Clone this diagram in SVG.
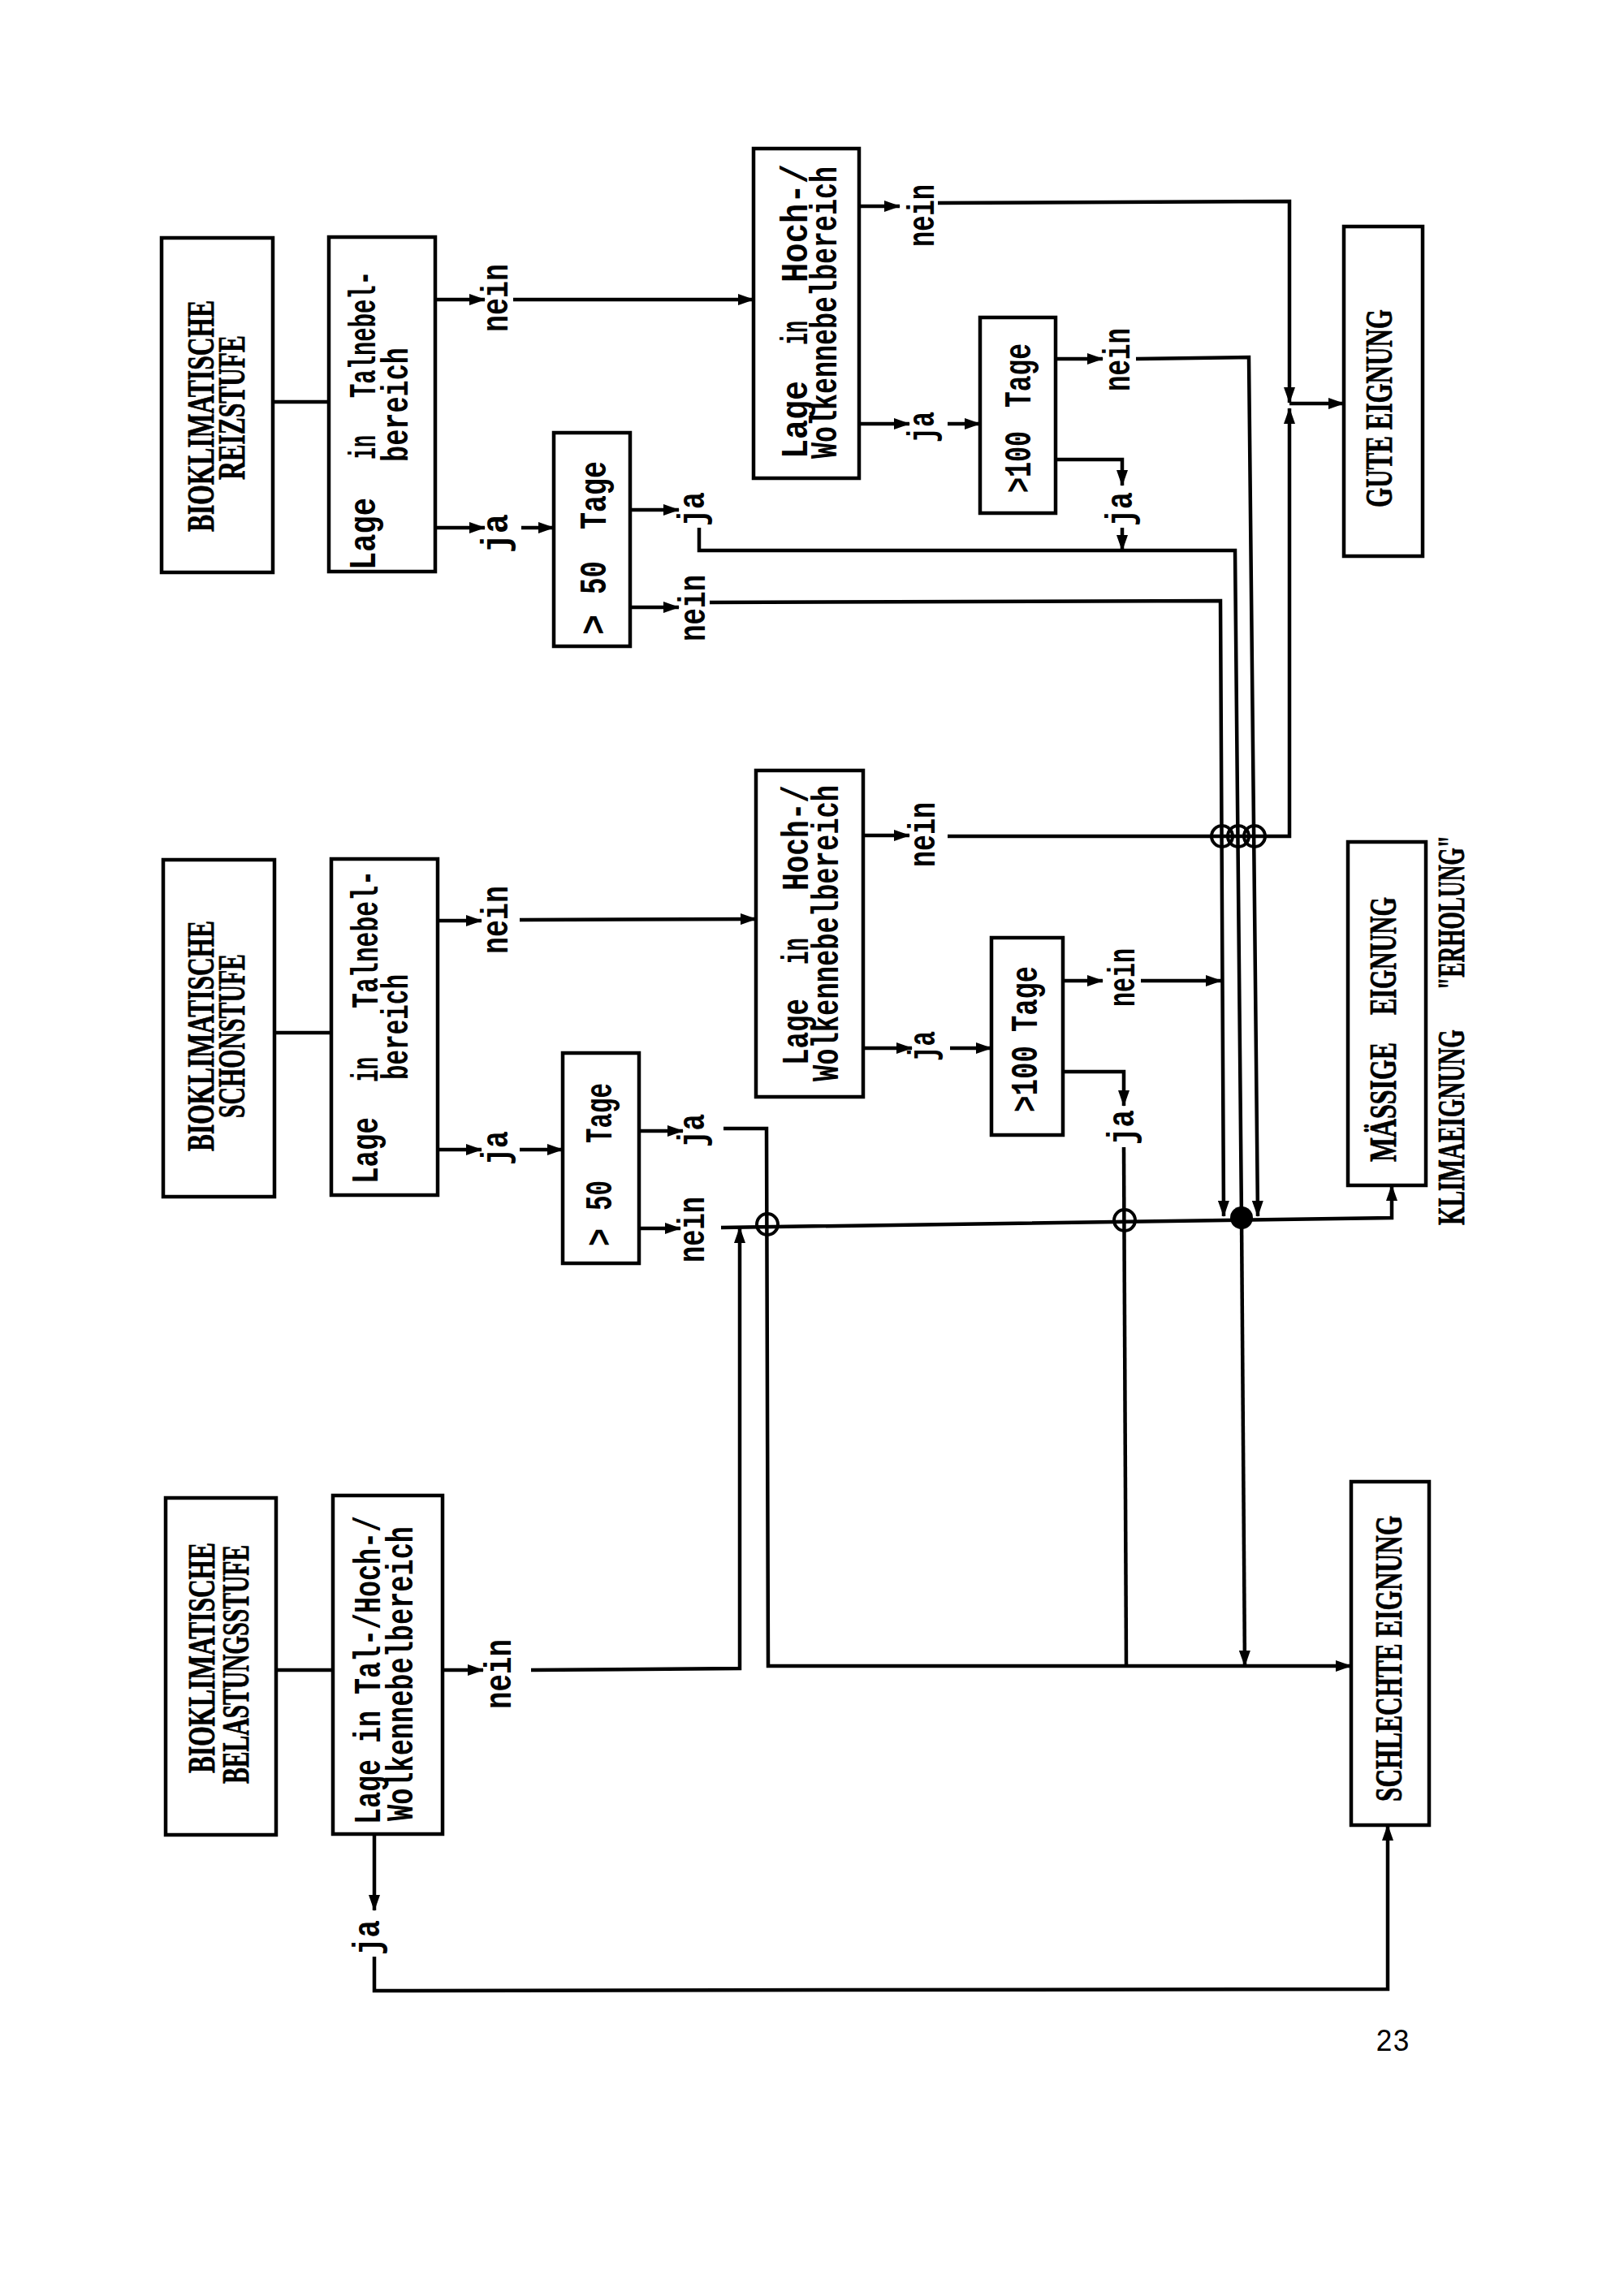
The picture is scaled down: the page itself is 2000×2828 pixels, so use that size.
<svg xmlns="http://www.w3.org/2000/svg" width="2000" height="2828" viewBox="0 0 2000 2828">
<style>
.box{fill:#fff;stroke:#000;stroke-width:4.5}
.ln{fill:none;stroke:#000;stroke-width:4.5}
.ar{fill:none;stroke:#000;stroke-width:4.5;marker-end:url(#ah)}
.hd{font-family:"Liberation Serif",serif;font-weight:bold;font-size:47px;fill:#000;stroke:#000;stroke-width:0.8}
.tw{font-family:"Liberation Mono",monospace;font-weight:bold;font-size:47px;fill:#000}
.pg{font-family:"Liberation Mono",monospace;font-size:38px;fill:#000}
.x{fill:none;stroke:#000;stroke-width:4}
</style>
<defs>
<marker id="ah" markerWidth="20" markerHeight="14" refX="19" refY="7" orient="auto" markerUnits="userSpaceOnUse"><path d="M0,0 L20,7 L0,14 z" fill="#000"/></marker>
</defs>
<rect width="2000" height="2828" fill="#fff"/>

<g id="connectors">
<!-- row 1 -->
<path class="ln" d="M336,495 H405"/>
<path class="ar" d="M536,369 H597"/>
<path class="ar" d="M632,369 H928"/>
<path class="ar" d="M536,650 H597"/>
<path class="ar" d="M642,650 H682"/>
<path class="ar" d="M776,628 H836"/>
<path class="ln" d="M861,650 V678 H1521 L1529,1500"/>
<path class="ar" d="M776,748 H836"/>
<path class="ar" d="M874,742 L1503,740 L1507,1498"/>
<path class="ar" d="M1058,254 H1108"/>
<path class="ar" d="M1155,250 L1588,248 V496"/>
<path class="ar" d="M1588,497 H1655"/>
<path class="ar" d="M1058,522 H1120"/>
<path class="ar" d="M1167,522 H1207"/>
<path class="ar" d="M1300,442 H1358"/>
<path class="ar" d="M1399,442 L1538,440 L1549,1498"/>
<path class="ar" d="M1300,566 H1382 V598"/>
<path class="ar" d="M1382,650 V678"/>
<!-- row 2 -->
<path class="ln" d="M338,1272 H408"/>
<path class="ar" d="M539,1134 H593"/>
<path class="ar" d="M640,1133 L931,1132"/>
<path class="ar" d="M539,1416 H593"/>
<path class="ar" d="M640,1416 H693"/>
<path class="ar" d="M787,1393 H841"/>
<path class="ar" d="M891,1390 H944 L946,2052 H1664"/>
<path class="ar" d="M787,1513 H838"/>
<path class="ar" d="M888,1512 L1714,1500 V1460"/>
<path class="ar" d="M654,2057 L911,2055 V1512"/>
<path class="ar" d="M1063,1029 H1120"/>
<path class="ar" d="M1167,1030 H1588 V503"/>
<path class="ar" d="M1063,1291 H1123"/>
<path class="ar" d="M1170,1291 H1221"/>
<path class="ar" d="M1309,1208 H1358"/>
<path class="ar" d="M1405,1208 H1504"/>
<path class="ar" d="M1309,1320 H1384 V1362"/>
<path class="ln" d="M1384,1413 L1387,2052"/>
<path class="ar" d="M1529,1500 L1533,2052"/>
<!-- row 3 -->
<path class="ln" d="M340,2057 H410"/>
<path class="ar" d="M545,2057 H595"/>
<path class="ar" d="M461,2259 V2353"/>
<path class="ar" d="M461,2410 V2452 L1709,2450 V2248"/>
<!-- crossings -->
<circle class="x" cx="1505" cy="1030" r="13"/>
<circle class="x" cx="1525" cy="1030" r="13"/>
<circle class="x" cx="1545" cy="1030" r="13"/>
<circle class="x" cx="945" cy="1508" r="13"/>
<circle class="x" cx="1385" cy="1503" r="13"/>
<circle cx="1529" cy="1500" r="14" fill="#000"/>
</g>

<g id="reizstufe">
<rect class="box" x="199" y="293" width="137" height="412"/>
<text class="hd" transform="translate(263,655) rotate(-90)" textLength="285" lengthAdjust="spacingAndGlyphs">BIOKLIMATISCHE</text>
<text class="hd" transform="translate(301,591) rotate(-90)" textLength="178" lengthAdjust="spacingAndGlyphs">REIZSTUFE</text>
</g>
<g id="talnebel1">
<rect class="box" x="405" y="292" width="131" height="412"/>
<text class="tw" transform="translate(462,702) rotate(-90)" textLength="89" lengthAdjust="spacingAndGlyphs">Lage</text>
<text class="tw" transform="translate(462,566) rotate(-90)" textLength="30" lengthAdjust="spacingAndGlyphs">in</text>
<text class="tw" transform="translate(462,490) rotate(-90)" textLength="156" lengthAdjust="spacingAndGlyphs">Talnebel-</text>
<text class="tw" transform="translate(502,569) rotate(-90)" textLength="141" lengthAdjust="spacingAndGlyphs">bereich</text>
</g>
<g id="labels1">
<text class="tw" transform="translate(625,409) rotate(-90)" textLength="84" lengthAdjust="spacingAndGlyphs">nein</text>
<text class="tw" transform="translate(625,681) rotate(-90)" textLength="48" lengthAdjust="spacingAndGlyphs">ja</text>
<text class="tw" transform="translate(867,648) rotate(-90)" textLength="42" lengthAdjust="spacingAndGlyphs">ja</text>
<text class="tw" transform="translate(868,790) rotate(-90)" textLength="82" lengthAdjust="spacingAndGlyphs">nein</text>
<text class="tw" transform="translate(1150,304) rotate(-90)" textLength="77" lengthAdjust="spacingAndGlyphs">nein</text>
<text class="tw" transform="translate(1150,545) rotate(-90)" textLength="38" lengthAdjust="spacingAndGlyphs">ja</text>
<text class="tw" transform="translate(1391,482) rotate(-90)" textLength="78" lengthAdjust="spacingAndGlyphs">nein</text>
<text class="tw" transform="translate(1394,648) rotate(-90)" textLength="42" lengthAdjust="spacingAndGlyphs">ja</text>
</g>
<g id="tage50_1">
<rect class="box" x="682" y="533" width="94" height="263"/>
<text class="tw" transform="translate(746,782) rotate(-90)" textLength="25" lengthAdjust="spacingAndGlyphs">&gt;</text>
<text class="tw" transform="translate(746,732) rotate(-90)" textLength="41" lengthAdjust="spacingAndGlyphs">50</text>
<text class="tw" transform="translate(746,652) rotate(-90)" textLength="84" lengthAdjust="spacingAndGlyphs">Tage</text>
</g>
<g id="hoch1">
<rect class="box" x="928" y="183" width="130" height="406"/>
<text class="tw" transform="translate(994,565) rotate(-90)" textLength="96" lengthAdjust="spacingAndGlyphs">Lage</text>
<text class="tw" transform="translate(994,425) rotate(-90)" textLength="30" lengthAdjust="spacingAndGlyphs">in</text>
<text class="tw" transform="translate(994,348) rotate(-90)" textLength="146" lengthAdjust="spacingAndGlyphs">Hoch-/</text>
<text class="tw" transform="translate(1030,565) rotate(-90)" textLength="360" lengthAdjust="spacingAndGlyphs">Wolkennebelbereich</text>
</g>
<g id="tage100_1">
<rect class="box" x="1207" y="391" width="93" height="241"/>
<text class="tw" transform="translate(1269,607) rotate(-90)" textLength="76" lengthAdjust="spacingAndGlyphs">&gt;100</text>
<text class="tw" transform="translate(1269,502) rotate(-90)" textLength="79" lengthAdjust="spacingAndGlyphs">Tage</text>
</g>

<g id="schonstufe">
<rect class="box" x="201" y="1059" width="137" height="415"/>
<text class="hd" transform="translate(263,1418) rotate(-90)" textLength="284" lengthAdjust="spacingAndGlyphs">BIOKLIMATISCHE</text>
<text class="hd" transform="translate(301,1377) rotate(-90)" textLength="202" lengthAdjust="spacingAndGlyphs">SCHONSTUFE</text>
</g>
<g id="talnebel2">
<rect class="box" x="408" y="1058" width="131" height="414"/>
<text class="tw" transform="translate(465,1458) rotate(-90)" textLength="82" lengthAdjust="spacingAndGlyphs">Lage</text>
<text class="tw" transform="translate(465,1333) rotate(-90)" textLength="31" lengthAdjust="spacingAndGlyphs">in</text>
<text class="tw" transform="translate(465,1242) rotate(-90)" textLength="170" lengthAdjust="spacingAndGlyphs">Talnebel-</text>
<text class="tw" transform="translate(502,1330) rotate(-90)" textLength="130" lengthAdjust="spacingAndGlyphs">bereich</text>
</g>
<g id="labels2">
<text class="tw" transform="translate(625,1175) rotate(-90)" textLength="84" lengthAdjust="spacingAndGlyphs">nein</text>
<text class="tw" transform="translate(625,1435) rotate(-90)" textLength="42" lengthAdjust="spacingAndGlyphs">ja</text>
<text class="tw" transform="translate(867,1413) rotate(-90)" textLength="41" lengthAdjust="spacingAndGlyphs">ja</text>
<text class="tw" transform="translate(867,1555) rotate(-90)" textLength="81" lengthAdjust="spacingAndGlyphs">nein</text>
<text class="tw" transform="translate(1151,1068) rotate(-90)" textLength="80" lengthAdjust="spacingAndGlyphs">nein</text>
<text class="tw" transform="translate(1151,1307) rotate(-90)" textLength="37" lengthAdjust="spacingAndGlyphs">ja</text>
<text class="tw" transform="translate(1397,1240) rotate(-90)" textLength="72" lengthAdjust="spacingAndGlyphs">nein</text>
<text class="tw" transform="translate(1396,1410) rotate(-90)" textLength="43" lengthAdjust="spacingAndGlyphs">ja</text>
</g>
<g id="tage50_2">
<rect class="box" x="693" y="1297" width="94" height="259"/>
<text class="tw" transform="translate(753,1535) rotate(-90)" textLength="22" lengthAdjust="spacingAndGlyphs">&gt;</text>
<text class="tw" transform="translate(753,1491) rotate(-90)" textLength="37" lengthAdjust="spacingAndGlyphs">50</text>
<text class="tw" transform="translate(753,1408) rotate(-90)" textLength="74" lengthAdjust="spacingAndGlyphs">Tage</text>
</g>
<g id="hoch2">
<rect class="box" x="931" y="949" width="132" height="402"/>
<text class="tw" transform="translate(995,1312) rotate(-90)" textLength="82" lengthAdjust="spacingAndGlyphs">Lage</text>
<text class="tw" transform="translate(995,1188) rotate(-90)" textLength="33" lengthAdjust="spacingAndGlyphs">in</text>
<text class="tw" transform="translate(995,1097) rotate(-90)" textLength="130" lengthAdjust="spacingAndGlyphs">Hoch-/</text>
<text class="tw" transform="translate(1032,1332) rotate(-90)" textLength="365" lengthAdjust="spacingAndGlyphs">Wolkennebelbereich</text>
</g>
<g id="tage100_2">
<rect class="box" x="1221" y="1155" width="88" height="243"/>
<text class="tw" transform="translate(1277,1370) rotate(-90)" textLength="82" lengthAdjust="spacingAndGlyphs">&gt;100</text>
<text class="tw" transform="translate(1277,1271) rotate(-90)" textLength="81" lengthAdjust="spacingAndGlyphs">Tage</text>
</g>

<g id="belastungsstufe">
<rect class="box" x="204" y="1845" width="136" height="415"/>
<text class="hd" transform="translate(264,2184) rotate(-90)" textLength="284" lengthAdjust="spacingAndGlyphs">BIOKLIMATISCHE</text>
<text class="hd" transform="translate(306,2197) rotate(-90)" textLength="294" lengthAdjust="spacingAndGlyphs">BELASTUNGSSTUFE</text>
</g>
<g id="talhoch3">
<rect class="box" x="410" y="1842" width="135" height="417"/>
<text class="tw" transform="translate(468,2247) rotate(-90)" textLength="380" lengthAdjust="spacingAndGlyphs">Lage in Tal-/Hoch-/</text>
<text class="tw" transform="translate(508,2243) rotate(-90)" textLength="363" lengthAdjust="spacingAndGlyphs">Wolkennebelbereich</text>
</g>
<g id="labels3">
<text class="tw" transform="translate(629,2105) rotate(-90)" textLength="86" lengthAdjust="spacingAndGlyphs">nein</text>
<text class="tw" transform="translate(467,2408) rotate(-90)" textLength="43" lengthAdjust="spacingAndGlyphs">ja</text>
</g>

<g id="gute">
<rect class="box" x="1655" y="279" width="97" height="406"/>
<text class="hd" transform="translate(1714,625) rotate(-90)" textLength="244" lengthAdjust="spacingAndGlyphs">GUTE EIGNUNG</text>
</g>
<g id="maessige">
<rect class="box" x="1660" y="1037" width="96" height="423"/>
<text class="hd" transform="translate(1719,1431) rotate(-90)" textLength="147" lengthAdjust="spacingAndGlyphs">MÄSSIGE</text>
<text class="hd" transform="translate(1719,1250) rotate(-90)" textLength="145" lengthAdjust="spacingAndGlyphs">EIGNUNG</text>
</g>
<g id="caption">
<text class="hd" transform="translate(1803,1509) rotate(-90)" textLength="241" lengthAdjust="spacingAndGlyphs">KLIMAEIGNUNG</text>
<text class="hd" transform="translate(1803,1219) rotate(-90)" textLength="190" lengthAdjust="spacingAndGlyphs">"ERHOLUNG"</text>
</g>
<g id="schlechte">
<rect class="box" x="1664" y="1825" width="96" height="423"/>
<text class="hd" transform="translate(1726,2219) rotate(-90)" textLength="352" lengthAdjust="spacingAndGlyphs">SCHLECHTE EIGNUNG</text>
</g>
<text class="pg" x="1694" y="2526" textLength="42" lengthAdjust="spacingAndGlyphs">23</text>
</svg>
